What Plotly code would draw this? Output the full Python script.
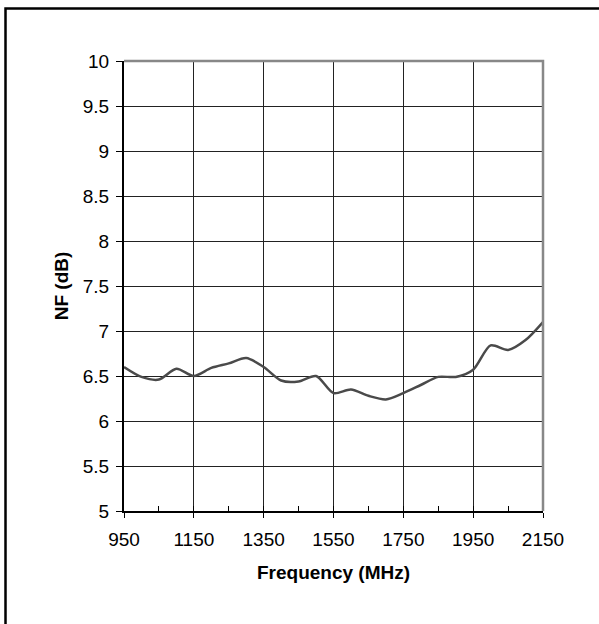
import plotly.graph_objects as go

freq_mhz = [950, 1000, 1050, 1100, 1150, 1200, 1250, 1300, 1350, 1400, 1450, 1500,
            1550, 1600, 1650, 1700, 1750, 1800, 1850, 1900, 1950, 2000, 2050, 2100, 2150]
nf_db = [6.60, 6.49, 6.46, 6.58, 6.50, 6.59, 6.64, 6.70, 6.60, 6.45, 6.44, 6.50,
         6.31, 6.35, 6.28, 6.24, 6.31, 6.40, 6.49, 6.49, 6.57, 6.84, 6.79, 6.90, 7.10]
x_ticks = [950, 1150, 1350, 1550, 1750, 1950, 2150]
y_ticks = [5, 5.5, 6, 6.5, 7, 7.5, 8, 8.5, 9, 9.5, 10]

FONT = "Liberation Sans, Arial, sans-serif"

fig = go.Figure()
fig.add_trace(go.Scatter(x=freq_mhz, y=nf_db, mode="lines",
                         line=dict(color="#4a4a4a", width=2.5, shape="spline", smoothing=0.8),
                         showlegend=False, hoverinfo="x+y"))
# invisible trace to activate the overlay axis for inner ticks
fig.add_trace(go.Scatter(x=[950, 2150], y=[5, 5], xaxis="x2", mode="lines",
                         line=dict(width=0), showlegend=False, hoverinfo="skip"))

fig.update_layout(
    width=599, height=624,
    margin=dict(l=124, r=56, t=61, b=113),
    paper_bgcolor="white", plot_bgcolor="white",
    font=dict(family=FONT, size=19, color="black"),
    xaxis=dict(range=[950, 2150], tickvals=x_ticks, ticktext=[str(v) for v in x_ticks],
               ticks="outside", ticklen=5, tickcolor="black", tickwidth=1,
               showline=True, linecolor="black", linewidth=2,
               showgrid=True, gridcolor="#222222", gridwidth=1, zeroline=False,
               title=dict(text="<b>Frequency (MHz)</b>", font=dict(size=19), standoff=17),
               ticklabelstandoff=5),
    xaxis2=dict(range=[950, 2150], overlaying="x", anchor="y", side="bottom",
                dtick=100, tick0=950, ticks="inside", ticklen=5, tickcolor="black",
                showticklabels=False, showgrid=False, showline=False, zeroline=False),
    yaxis=dict(range=[5, 10], tickvals=y_ticks, ticktext=[f"{v:g}" for v in y_ticks],
               ticks="outside", ticklen=6, tickcolor="black", tickwidth=1,
               showline=True, linecolor="black", linewidth=2,
               showgrid=True, gridcolor="#222222", gridwidth=1, zeroline=False,
               title=dict(text="<b>NF (dB)</b>", font=dict(size=19), standoff=9),
               ticklabelstandoff=3),
    shapes=[
        # gray top and right frame edges of the plot area
        dict(type="path", xref="paper", yref="paper",
             path="M 0,1 L 1,1 L 1,0", line=dict(color="#888888", width=2.5)),
        # outer chart border (top and left visible)
        dict(type="path", xref="paper", yref="paper",
             path="M -0.2828,-0.3 L -0.2828,1.1167 L 1.2,1.1167",
             line=dict(color="black", width=2.5)),
    ],
)

fig.write_html("out.html", post_script="document.body.style.margin='0';",
               config={"displayModeBar": False})
